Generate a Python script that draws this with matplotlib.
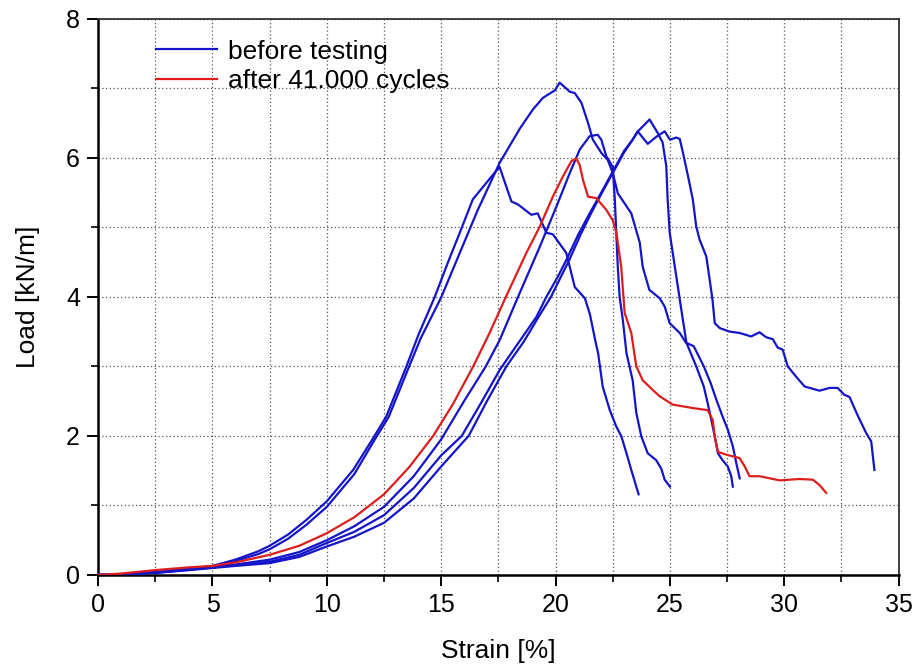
import matplotlib.pyplot as plt
from matplotlib.ticker import MultipleLocator

plt.rcParams['font.family'] = ['Liberation Sans', 'DejaVu Sans']

# before testing, five specimens (strain %, load kN/m)
a_x = [0, 1, 2.5, 4, 5, 6, 7, 7.5, 8.3, 9.1, 10, 11.15, 12.03, 12.6, 13.48, 14.0, 14.72, 15.3, 15.81, 16.38,
       17.1, 17.55, 18.07, 18.35, 18.94, 19.22, 19.6, 19.88, 20.47, 20.84, 21.06, 21.28, 21.5, 21.75, 21.86,
       22.06, 22.37, 22.66, 22.87, 23.1, 23.31, 23.63]
a_y = [0, 0.01, 0.04, 0.09, 0.13, 0.22, 0.34, 0.42, 0.58, 0.79, 1.06, 1.51, 1.97, 2.28, 3.0, 3.45, 4.0, 4.5, 4.92, 5.4,
       5.69, 5.87, 5.37, 5.33, 5.18, 5.2, 4.92, 4.9, 4.63, 4.14, 4.06, 3.98, 3.75, 3.35, 3.19,
       2.71, 2.37, 2.13, 2.0, 1.75, 1.51, 1.16]

b_x = [0, 1, 2.5, 4, 5, 6, 7, 7.5, 8.3, 9.1, 10, 11.2, 12.1, 12.7, 13.5, 14.1, 15.01, 15.81, 16.6, 17.56, 18.44,
       19.0, 19.44, 19.97, 20.18, 20.62, 20.84, 21.13, 21.42, 21.63, 22.0, 22.28, 22.5, 22.72, 23.31, 23.68,
       23.81, 24.1, 24.55, 24.77, 24.99, 25.43, 25.7, 26.04, 26.48, 26.78, 27.03, 27.3, 27.53, 27.75, 27.9, 28.05]
b_y = [0, 0.01, 0.035, 0.085, 0.125, 0.2, 0.3, 0.37, 0.52, 0.72, 0.98, 1.45, 1.95, 2.27, 2.92, 3.4, 4.0, 4.63, 5.25,
       5.93, 6.42, 6.69, 6.86, 6.97, 7.08, 6.95, 6.93, 6.79, 6.5, 6.26, 6.07, 5.97, 5.78, 5.49, 5.2, 4.78,
       4.43, 4.1, 3.98, 3.86, 3.62, 3.48, 3.34, 3.29, 3.0, 2.76, 2.52, 2.28, 2.09, 1.85, 1.61, 1.39]

c_x = [0, 1, 2.5, 4, 5, 6, 7.5, 8.8, 10, 11.2, 12.5, 13.8, 15.0, 16.0, 16.95, 17.56, 18.36, 19.31, 20.04, 20.62,
       21.06, 21.49, 21.84, 22.0, 22.22, 22.5, 22.59, 22.72, 22.8, 22.94, 23.1, 23.37, 23.53, 23.75, 24.03,
       24.4, 24.62, 24.77, 25.0]
c_y = [0, 0.01, 0.035, 0.08, 0.12, 0.15, 0.22, 0.33, 0.5, 0.7, 0.98, 1.42, 1.95, 2.5, 3.0, 3.38, 4.0, 4.72, 5.3,
       5.78, 6.12, 6.31, 6.33, 6.26, 6.02, 5.87, 5.4, 4.43, 4.0, 3.67, 3.19, 2.8, 2.33, 1.99, 1.75,
       1.65, 1.53, 1.37, 1.27]

d_x = [0, 1, 2.5, 4, 5, 6, 7.5, 8.8, 10, 11.2, 12.5, 13.8, 15.0, 15.9, 16.7, 17.56, 18.4, 19.16, 19.6, 20.1,
       20.47, 21.0, 21.49, 22.0, 22.5, 23.0, 23.37, 23.6, 24.11, 24.46, 24.68, 24.84, 24.9, 24.99, 25.28,
       25.5, 25.72, 26.15, 26.48, 26.65, 26.81, 26.96, 27.1, 27.3, 27.53, 27.68, 27.75]
d_y = [0, 0.01, 0.03, 0.075, 0.11, 0.14, 0.19, 0.29, 0.46, 0.62, 0.86, 1.25, 1.72, 2.0, 2.45, 2.95, 3.35, 3.71,
       4.0, 4.29, 4.53, 4.9, 5.2, 5.5, 5.8, 6.1, 6.26, 6.38, 6.55, 6.36, 6.22, 5.88, 5.4, 4.92, 4.29,
       3.81, 3.34, 3.0, 2.71, 2.47, 2.23, 1.99, 1.75, 1.65, 1.56, 1.42, 1.27]

e_x = [0, 1, 2.5, 4, 5, 6, 7.5, 8.8, 10, 11.2, 12.5, 13.8, 15.0, 16.2, 17.0, 17.85, 18.6, 19.31, 19.8, 20.25,
       20.6, 21.1, 21.55, 22.0, 22.5, 23.0, 23.37, 23.59, 24.03, 24.4, 24.77, 25.0, 25.28, 25.43, 25.57,
       25.8, 26.0, 26.15, 26.3, 26.59, 26.74, 26.86, 26.96, 27.18, 27.6, 28.05, 28.55, 28.92, 29.2, 29.5,
       29.71, 29.93, 30.15, 30.52, 30.89, 31.54, 31.98, 32.33, 32.63, 32.85, 33.2, 33.58, 33.8, 33.94]
e_y = [0, 0.01, 0.03, 0.07, 0.1, 0.13, 0.17, 0.26, 0.41, 0.55, 0.75, 1.1, 1.56, 2.0, 2.5, 3.0, 3.35, 3.74, 4.0,
       4.3, 4.53, 4.9, 5.2, 5.48, 5.78, 6.08, 6.26, 6.38, 6.2, 6.3, 6.38, 6.26, 6.29, 6.27, 6.07,
       5.72, 5.4, 5.01, 4.82, 4.58, 4.24, 3.96, 3.62, 3.55, 3.5, 3.48, 3.43, 3.49, 3.42, 3.39,
       3.27, 3.24, 3.0, 2.85, 2.71, 2.65, 2.69, 2.69, 2.59, 2.56, 2.3, 2.04, 1.92, 1.51]

# after 41.000 cycles
r_x = [0, 1, 2.5, 4, 5, 6, 7.5, 8.8, 10, 11.2, 12.5, 13.6, 14.65, 15.5, 16.4, 17.1, 17.83, 18.72, 19.31, 19.88,
       20.32, 20.69, 20.9, 21.05, 21.2, 21.42, 21.78, 22.22, 22.5, 22.66, 22.87, 23.02, 23.31, 23.53, 23.81,
       24.25, 24.55, 25.12, 26.0, 26.65, 26.87, 26.96, 27.1, 27.47, 28.05, 28.27, 28.48, 28.92, 29.8,
       30.66, 31.25, 31.55, 31.83]
r_y = [0, 0.02, 0.07, 0.11, 0.13, 0.18, 0.29, 0.42, 0.6, 0.83, 1.16, 1.55, 2.0, 2.45, 3.0, 3.47, 4.0, 4.63, 5.01,
       5.44, 5.73, 5.95, 5.99, 5.9, 5.68, 5.44, 5.42, 5.25, 5.1, 4.92, 4.43, 3.77, 3.48, 3.0, 2.8,
       2.66, 2.57, 2.45, 2.4, 2.37, 2.23, 1.99, 1.77, 1.73, 1.68, 1.56, 1.42, 1.42, 1.36,
       1.38, 1.37, 1.29, 1.18]

before = [(a_x, a_y), (b_x, b_y), (c_x, c_y), (d_x, d_y), (e_x, e_y)]

blue = '#1414c8'
red = '#dc1e1e'

fig = plt.figure(figsize=(9.17, 6.67), dpi=100)
ax = fig.add_axes([0.107, 0.138, 0.873, 0.834])

for i, (xs, ys) in enumerate(before):
    ax.plot(xs, ys, color=blue, lw=1.6, label='before testing' if i == 0 else None, zorder=3)
ax.plot(r_x, r_y, color=red, lw=1.6, label='after 41.000 cycles', zorder=3)

ax.set_xlim(0, 35)
ax.set_ylim(0, 8)
ax.xaxis.set_major_locator(MultipleLocator(5))
ax.xaxis.set_minor_locator(MultipleLocator(2.5))
ax.yaxis.set_major_locator(MultipleLocator(2))
ax.yaxis.set_minor_locator(MultipleLocator(1))
ax.grid(which='both', color='#555555', linestyle=(0, (1, 2)), lw=0.9)
ax.set_axisbelow(True)

ax.tick_params(which='major', direction='out', length=8, width=1.4, labelsize=18, pad=5)
ax.tick_params(which='minor', direction='out', length=5, width=1.2)
for side in ['left', 'bottom']:
    ax.spines[side].set_linewidth(1.8)
for side in ['top', 'right']:
    ax.spines[side].set_linewidth(1.3)
    ax.spines[side].set_color('#333333')

ax.set_xlabel('Strain [%]', fontsize=19, labelpad=16)
ax.set_ylabel('Load [kN/m]', fontsize=19, labelpad=19)

ax.legend(loc='upper left', bbox_to_anchor=(0.043, 1.005), frameon=False, fontsize=19,
          handlelength=2.3, handletextpad=0.4, labelspacing=0.22)

fig.savefig('out.png', dpi=100)
